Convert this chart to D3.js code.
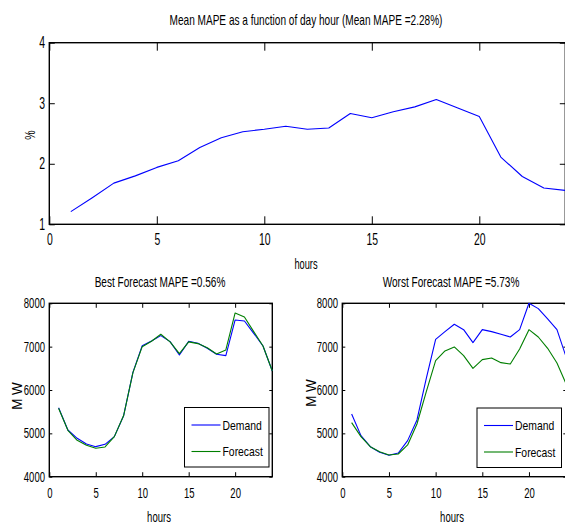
<!DOCTYPE html>
<html>
<head>
<meta charset="utf-8">
<script src="https://cdn.jsdelivr.net/npm/d3@7"></script>
<style>
  html, body { margin: 0; padding: 0; background: #fff; }
  svg { display: block; font-family: "Liberation Sans", Arial, Helvetica, sans-serif; }
</style>
</head>
<body>
<svg id="fig" width="565" height="525"></svg>
<script>
// ---- data -------------------------------------------------------------
const hours = d3.range(1, 25);
const hourTicks = [0, 5, 10, 15, 20];
const mapeTicks = [1, 2, 3, 4];
const mwTicks = [4000, 5000, 6000, 7000, 8000];

// mean absolute percentage error per hour of day (%)
const meanMape = [1.21, 1.44, 1.68, 1.80, 1.94, 2.05, 2.27, 2.43, 2.53, 2.57, 2.62, 2.57,
                  2.59, 2.83, 2.76, 2.86, 2.94, 3.06, 2.92, 2.78, 2.11, 1.79, 1.60, 1.56];

// best forecast day (MW)
const bestDemand   = [5590, 5078, 4885, 4755, 4693, 4747, 4924, 5408, 6408, 7023, 7131, 7254,
                      7116, 6808, 7123, 7077, 6962, 6823, 6793, 7616, 7592, 7308, 7016, 6439];
const bestForecast = [5578, 5070, 4839, 4724, 4655, 4686, 4924, 5410, 6400, 7000, 7125, 7285,
                      7110, 6838, 7110, 7070, 6975, 6831, 6923, 7777, 7685, 7346, 7016, 6439];

// worst forecast day (MW)
const worstDemand   = [5447, 4947, 4693, 4562, 4493, 4547, 4832, 5309, 6270, 7169, 7346, 7516,
                       7392, 7093, 7392, 7346, 7285, 7223, 7392, 8000, 7877, 7639, 7392, 6750];
const worstForecast = [5247, 4924, 4693, 4578, 4501, 4524, 4732, 5216, 5962, 6677, 6900, 6993,
                       6793, 6500, 6700, 6739, 6631, 6600, 6946, 7392, 7223, 6962, 6623, 6131];

const seriesNames = ["Demand", "Forecast"];
const seriesColors = ["#0000ff", "#007f00"];

// ---- helpers ----------------------------------------------------------
const svg = d3.select("#fig");

// condensed text: draw at (x,y), optionally rotated, squeezed along its own x
function label(text, x, y, o = {}) {
  const size = o.size || 14, sx = o.sx || 0.7, rot = o.rot || 0;
  return svg.append("text")
    .attr("transform", `translate(${x},${y}) rotate(${rot}) scale(${sx},1)`)
    .attr("text-anchor", o.anchor || "middle")
    .attr("font-size", size)
    .attr("fill", "#000")
    .text(text);
}

function panel(cfg) {
  const { x0, x1, y0, y1, yDomain, yTicks, xTickLen, yTickLen, fontSize, sx, xPad, yPad } = cfg;
  const x = d3.scaleLinear().domain([0, 24]).range([x0, x1]);
  const y = d3.scaleLinear().domain(yDomain).range([y0, y1]);
  const g = svg.append("g");

  const styleAxis = (sel) => {
    sel.select(".domain").remove();
    sel.selectAll(".tick line").attr("stroke", "#000").attr("stroke-width", 1);
    sel.selectAll(".tick text").attr("font-size", fontSize).attr("fill", "#000")
      .attr("font-family", "inherit");
  };

  // bottom axis with labels, ticks pointing inward
  const gb = g.append("g").attr("transform", `translate(0,${y0})`)
    .call(d3.axisBottom(x).tickValues(hourTicks).tickSizeInner(-xTickLen).tickSizeOuter(0)
      .tickPadding(xPad).tickFormat(d3.format("d")));
  styleAxis(gb);
  gb.selectAll(".tick text").attr("transform", `scale(${sx},1)`);

  // top mirror ticks
  const gt = g.append("g").attr("transform", `translate(0,${y1})`)
    .call(d3.axisTop(x).tickValues(hourTicks).tickSizeInner(-xTickLen).tickSizeOuter(0)
      .tickFormat(""));
  styleAxis(gt);

  // left axis with labels
  const gl = g.append("g").attr("transform", `translate(${x0},0)`)
    .call(d3.axisLeft(y).tickValues(yTicks).tickSizeInner(-yTickLen).tickSizeOuter(0)
      .tickPadding(yPad).tickFormat(d3.format("d")));
  styleAxis(gl);
  gl.selectAll(".tick text").attr("transform", `scale(${sx},1)`).attr("x", -yPad / sx);

  // right mirror ticks
  const gr = g.append("g").attr("transform", `translate(${x1},0)`)
    .call(d3.axisRight(y).tickValues(yTicks).tickSizeInner(-yTickLen).tickSizeOuter(0)
      .tickFormat(""));
  styleAxis(gr);

  // axes box
  g.append("rect")
    .attr("x", x0).attr("y", y1).attr("width", x1 - x0).attr("height", y0 - y1)
    .attr("fill", "none").attr("stroke", "#000").attr("stroke-width", 1.4);

  return { x, y, g };
}

function drawLine(p, values, color) {
  p.g.append("path")
    .datum(values)
    .attr("fill", "none")
    .attr("stroke", color)
    .attr("stroke-width", 1.1)
    .attr("stroke-linejoin", "round")
    .attr("d", d3.line().x((d, i) => p.x(hours[i])).y(d => p.y(d)));
}

function legend(p, right, boxTop) {
  const w = 84.5, h = 59.5, left = right - w;
  p.g.append("rect").attr("x", left).attr("y", boxTop).attr("width", w).attr("height", h)
    .attr("fill", "#fff").attr("stroke", "#000").attr("stroke-width", 1);
  seriesNames.forEach((name, i) => {
    const yy = boxTop + 17.5 + i * 26.5;
    p.g.append("line").attr("x1", left + 7).attr("x2", left + 36)
      .attr("y1", yy).attr("y2", yy)
      .attr("stroke", seriesColors[i]).attr("stroke-width", 1.1);
    label(name, left + 38, yy + 4.7, { size: 13, sx: 0.8, anchor: "start" });
  });
}

// ---- top panel: mean MAPE by hour ------------------------------------
const mapePanel = panel({ x0: 49.3, x1: 565.3, y0: 224.3, y1: 42.7, yDomain: [1, 4], yTicks: mapeTicks,
                          xTickLen: 8, yTickLen: 5.5, fontSize: 16.3, sx: 0.64, xPad: 9, yPad: 4.3 });
drawLine(mapePanel, meanMape, seriesColors[0]);
label("Mean MAPE as a function of day hour (Mean MAPE =2.28%)", 306, 25, { size: 14, sx: 0.72 });
label("hours", 306, 269, { size: 14, sx: 0.66 });
label("%", 34.5, 135, { size: 14, sx: 0.75, rot: -90 });

// ---- bottom-left: best day --------------------------------------------
const bestPanel = panel({ x0: 49.3, x1: 272.3, y0: 476.7, y1: 303.3, yDomain: [4000, 8000], yTicks: mwTicks,
                          xTickLen: 4.5, yTickLen: 3, fontSize: 14, sx: 0.68, xPad: 11, yPad: 4.3 });
drawLine(bestPanel, bestDemand, seriesColors[0]);
drawLine(bestPanel, bestForecast, seriesColors[1]);
legend(bestPanel, 269, 407.5);
label("Best Forecast MAPE =0.56%", 160, 286.7, { size: 14, sx: 0.72 });
label("hours", 159, 522, { size: 14, sx: 0.68 });
label("M W", 22, 396, { size: 15, sx: 0.9, rot: -90 });

// ---- bottom-right: worst day ------------------------------------------
const worstPanel = panel({ x0: 342.3, x1: 566.3, y0: 476.7, y1: 303.3, yDomain: [4000, 8000], yTicks: mwTicks,
                           xTickLen: 4.5, yTickLen: 3, fontSize: 14, sx: 0.68, xPad: 11, yPad: 4.3 });
drawLine(worstPanel, worstDemand, seriesColors[0]);
drawLine(worstPanel, worstForecast, seriesColors[1]);
legend(worstPanel, 561.5, 408);
label("Worst Forecast MAPE =5.73%", 451, 286.7, { size: 14, sx: 0.72 });
label("hours", 452, 522, { size: 14, sx: 0.68 });
label("M W", 316, 393, { size: 15, sx: 0.9, rot: -90 });
</script>
</body>
</html>
